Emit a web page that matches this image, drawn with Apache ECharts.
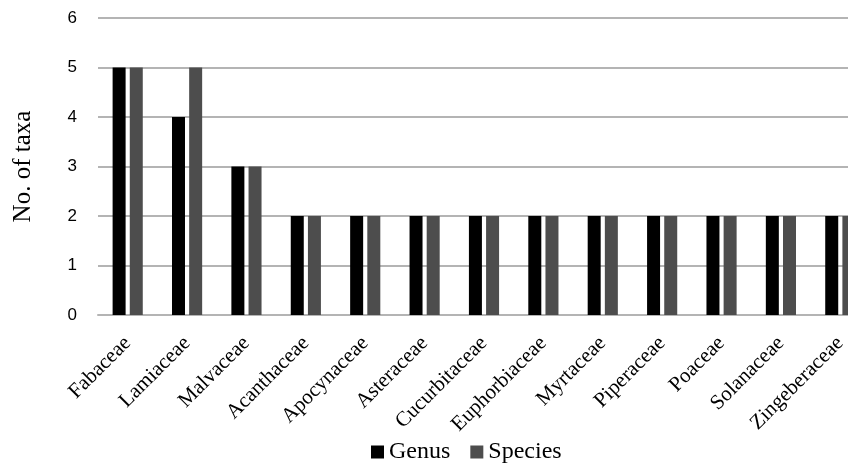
<!DOCTYPE html>
<html>
<head>
<meta charset="utf-8">
<script src="https://cdn.jsdelivr.net/npm/echarts@6/dist/echarts.min.js"></script>
<style>
  html, body { margin: 0; padding: 0; background: #fff; overflow: hidden; width: 848px; height: 463px; }
  /* the plot runs past the right edge of the page, so the canvas is wider than the view */
  #chart { width: 872px; height: 463px; }
</style>
</head>
<body>
<div id="chart"></div>
<script>
// Plant families and their counts of genera and species
const families = ['Fabaceae', 'Lamiaceae', 'Malvaceae', 'Acanthaceae', 'Apocynaceae', 'Asteraceae',
  'Cucurbitaceae', 'Euphorbiaceae', 'Myrtaceae', 'Piperaceae', 'Poaceae', 'Solanaceae', 'Zingeberaceae'];
const genusCounts = [5, 4, 3, 2, 2, 2, 2, 2, 2, 2, 2, 2, 2];
const speciesCounts = [5, 5, 3, 2, 2, 2, 2, 2, 2, 2, 2, 2, 2];
const yTicks = [0, 1, 2, 3, 4, 5, 6];

const serif = '"Liberation Serif", "Times New Roman", serif';
const sans = '"Liberation Sans", Arial, sans-serif';

const chart = echarts.init(document.getElementById('chart'));
chart.setOption({
  animation: false,
  backgroundColor: '#fff',
  grid: { left: 98, top: 18, width: 772, height: 297, containLabel: false },
  legend: {
    top: 435,
    left: 366,
    itemWidth: 13,
    itemHeight: 13,
    itemGap: 20,
    icon: 'rect',
    textStyle: { fontFamily: serif, fontSize: 24, color: '#000', padding: [0, 0, 0, 0] },
    data: ['Genus', 'Species']
  },
  xAxis: {
    type: 'category',
    data: families,
    axisLine: { show: true, lineStyle: { color: '#b4b4b4', width: 2 } },
    axisTick: { show: false },
    axisLabel: {
      rotate: 45,
      interval: 0,
      margin: 25,
      fontFamily: serif,
      fontSize: 21,
      color: '#000'
    }
  },
  yAxis: {
    type: 'value',
    min: yTicks[0],
    max: yTicks[yTicks.length - 1],
    interval: 1,
    name: 'No. of taxa',
    nameLocation: 'middle',
    nameGap: 62,
    nameTextStyle: { fontFamily: serif, fontSize: 25, color: '#000' },
    axisLine: { show: false },
    axisTick: { show: false },
    axisLabel: { fontFamily: sans, fontSize: 17, color: '#000', margin: 21 },
    splitLine: { lineStyle: { color: '#b4b4b4', width: 2 } }
  },
  series: [
    {
      name: 'Genus',
      type: 'bar',
      data: genusCounts,
      barWidth: 13,
      barGap: '32%',
      itemStyle: { color: '#000' }
    },
    {
      name: 'Species',
      type: 'bar',
      data: speciesCounts,
      barWidth: 13,
      barGap: '32%',
      itemStyle: { color: '#4d4d4d' }
    }
  ]
});
</script>
</body>
</html>
